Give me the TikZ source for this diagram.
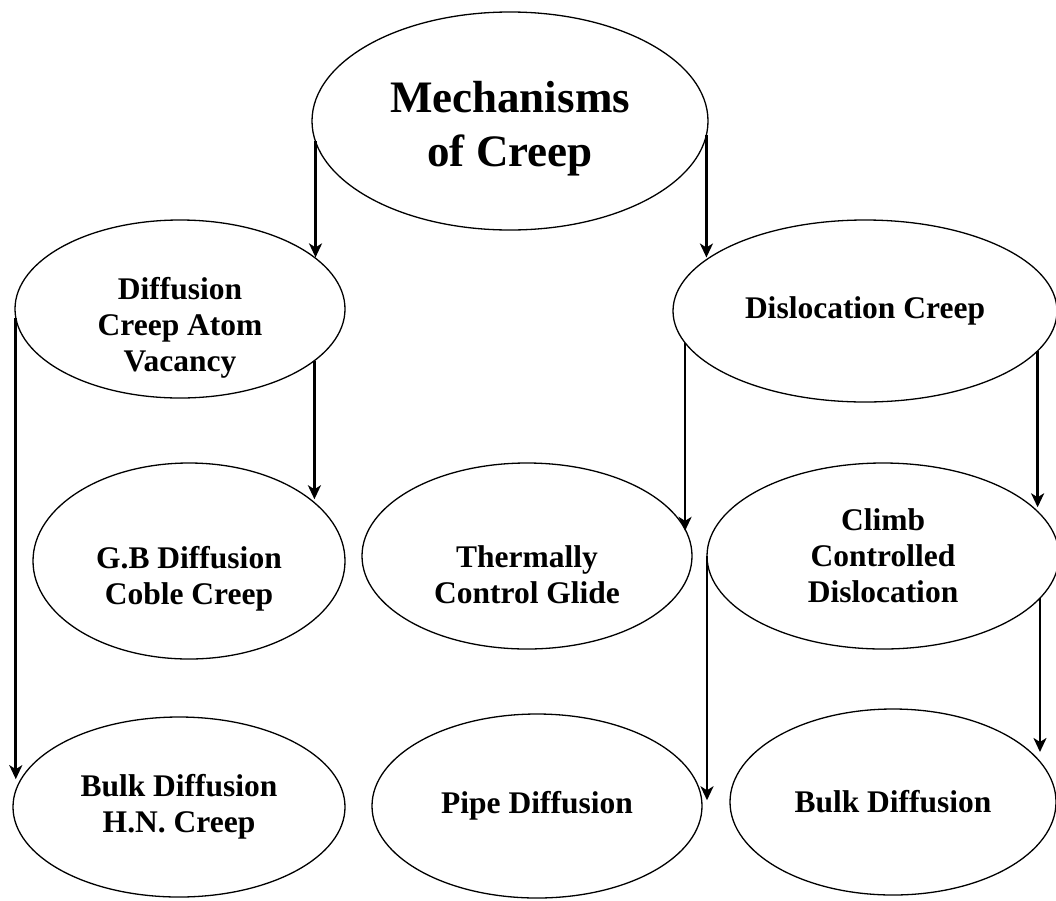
\documentclass[tikz,border=0pt]{standalone}
\usepackage{fontspec}
\setmainfont{Liberation Serif}
\usepackage{tikz}
\usetikzlibrary{shapes.geometric,arrows.meta}
\tikzset{bubble/.style={ellipse,draw,line width=1.3pt,inner sep=0pt,outer sep=0pt,align=center,font=\bfseries\fontsize{31.5}{36}\selectfont},
    link/.style={line width=2.8pt,-{Stealth[length=14pt,width=13pt,inset=4pt]}}}
\newcommand{\lowered}[2]{\raisebox{-#1}[\height][\depth]{\begin{tabular}{@{}c@{}}#2\end{tabular}}}

\begin{document}
\begin{tikzpicture}[x=1pt,y=-1pt]
            \useasboundingbox (0,0) rectangle (1056,900);
            \node (top) at (510,121) [bubble,minimum width=396pt,minimum height=218pt,font=\bfseries\fontsize{45}{54}\selectfont]{\lowered{8pt}{Mechanisms\\of Creep}};
            \node (diff) at (180,309) [bubble,minimum width=330pt,minimum height=178pt]{\lowered{19pt}{Diffusion\\Creep Atom\\Vacancy}};
            \node (disl) at (865,311) [bubble,minimum width=384pt,minimum height=182pt]{Dislocation Creep};
            \node (gb) at (189,561) [bubble,minimum width=312pt,minimum height=196pt]{\lowered{18pt}{G.B Diffusion\\Coble Creep}};
            \node (therm) at (527,556) [bubble,minimum width=330pt,minimum height=186pt]{\lowered{22pt}{Thermally\\Control Glide}};
            \node (climb) at (883,556) [bubble,minimum width=352pt,minimum height=186pt]{Climb\\Controlled\\Dislocation};
            \node (hn) at (179,807) [bubble,minimum width=332pt,minimum height=180pt]{Bulk Diffusion\\H.N. Creep};
            \node (pipe) at (537,806) [bubble,minimum width=330pt,minimum height=184pt]{Pipe Diffusion};
            \node (bulk) at (893,802) [bubble,minimum width=326pt,minimum height=186pt]{Bulk Diffusion};
            \foreach \from/\to in {top.186/diff.21,top.356/disl.161,diff.183/hn.170,diff.339/gb.27,
                disl.190/therm.9,disl.347/climb.18,climb.180/pipe.2,climb.345/bulk.20} {
                \draw[link] (\from) -- (\from |- \to);
            }
        \end{tikzpicture}
\end{document}
